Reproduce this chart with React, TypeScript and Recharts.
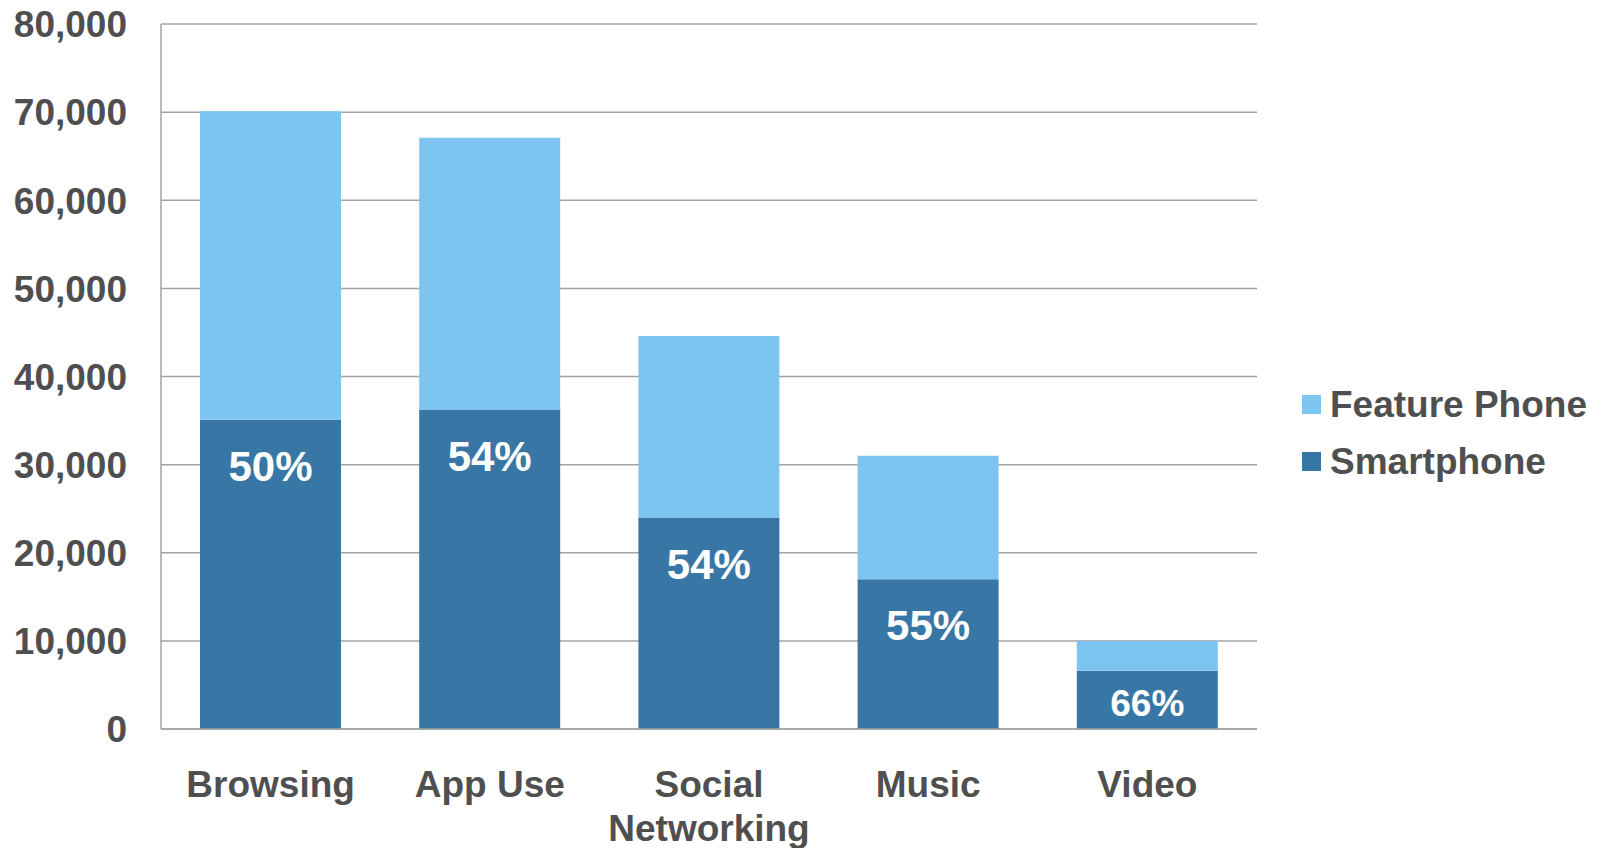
import React from 'react';
import { BarChart, Bar, XAxis, YAxis, CartesianGrid, Legend, LabelList } from 'recharts';

const categories = ['Browsing', 'App Use', 'Social\nNetworking', 'Music', 'Video'];
const smartphone = [35100, 36200, 24000, 17000, 6600];
const featurePhone = [35000, 30900, 20600, 14000, 3400];
const shareLabels = ['50%', '54%', '54%', '55%', '66%'];
const yTicks = [0, 10000, 20000, 30000, 40000, 50000, 60000, 70000, 80000];
const seriesNames = { featurePhone: 'Feature Phone', smartphone: 'Smartphone' };

const FONT = '"Liberation Sans", Arial, Helvetica, sans-serif';
const TEXT = '#4f4f4f';
const LIGHT = '#7dc5f0';
const DARK = '#3877a5';
const GRID = '#a3a3a3';

const data = categories.map((c, i) => ({
  category: c,
  smartphone: smartphone[i],
  featurePhone: featurePhone[i],
  share: shareLabels[i],
}));

const XTick = (props: any) => {
  const { x, y, payload } = props;
  const lines = String(payload.value).split('\n');
  return (
    <text x={x} y={y + 68} textAnchor="middle" fill={TEXT} fontFamily={FONT} fontWeight={700} fontSize={37}>
      {lines.map((l, i) => (
        <tspan key={i} x={x} dy={i === 0 ? 0 : 44}>{l}</tspan>
      ))}
    </text>
  );
};

const YTick = (props: any) => {
  const { x, y, payload } = props;
  return (
    <text x={x} y={y} dy="0.36em" textAnchor="end" fill={TEXT} fontFamily={FONT} fontWeight={700} fontSize={37}>
      {Number(payload.value).toLocaleString('en-US')}
    </text>
  );
};

const ShareLabel = (props: any) => {
  const { x, y, width, height, value } = props;
  const h = Number(height);
  const small = h < 80;
  const cy = Number(y) + Math.min(46, h / 2 + 3);
  return (
    <text x={Number(x) + Number(width) / 2} y={cy} dy="0.36em" textAnchor="middle" fill="#ffffff" fontFamily={FONT} fontWeight={700} fontSize={small ? 37 : 42}>
      {value}
    </text>
  );
};

const legendItems = [
  { name: seriesNames.featurePhone, color: LIGHT },
  { name: seriesNames.smartphone, color: DARK },
];

const LegendContent = () => (
  <div style={{ fontFamily: FONT, fontWeight: 700, fontSize: 37, color: TEXT }}>
    {legendItems.map((item) => (
      <div key={item.name} style={{ display: 'flex', alignItems: 'center', height: 57, whiteSpace: 'nowrap' }}>
        <span style={{ display: 'inline-block', width: 19, height: 19, background: item.color, marginRight: 9 }} />
        <span>{item.name}</span>
      </div>
    ))}
  </div>
);

export default function App() {
  return (
    <div style={{ position: 'absolute', left: 0, top: 0, width: 1602, height: 848, background: '#fff' }}>
      <BarChart width={1602} height={848} data={data} margin={{ top: 24, right: 345, left: 0, bottom: 0 }} barSize={141}>
        <CartesianGrid vertical={false} stroke={GRID} strokeWidth={1.5} />
        <XAxis
          dataKey="category"
          height={119}
          tickLine={false}
          tickSize={0}
          tickMargin={0}
          axisLine={{ stroke: GRID, strokeWidth: 1.5 }}
          tick={<XTick />}
          interval={0}
        />
        <YAxis
          width={161}
          domain={[0, 80000]}
          ticks={yTicks}
          tickLine={false}
          tickSize={0}
          tickMargin={34}
          axisLine={{ stroke: GRID, strokeWidth: 1.5 }}
          tick={<YTick />}
          interval={0}
        />
        <Legend
          layout="vertical"
          align="center"
          verticalAlign="middle"
          content={<LegendContent />}
          wrapperStyle={{ left: 1302, top: 376, width: 300, height: 114 }}
        />
        <Bar dataKey="smartphone" name={seriesNames.smartphone} stackId="a" fill={DARK} isAnimationActive={false}>
          <LabelList dataKey="share" content={<ShareLabel />} />
        </Bar>
        <Bar dataKey="featurePhone" name={seriesNames.featurePhone} stackId="a" fill={LIGHT} isAnimationActive={false} />
      </BarChart>
    </div>
  );
}
